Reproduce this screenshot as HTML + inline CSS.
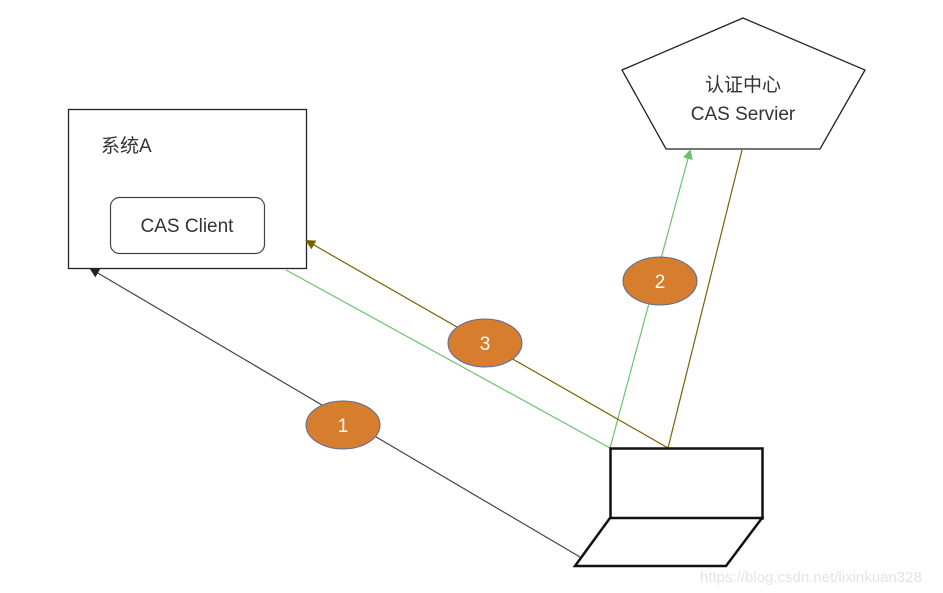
<!DOCTYPE html>
<html><head><meta charset="utf-8"><style>body{margin:0;background:#fff}svg{display:block}</style></head><body>
<svg width="943" height="593" xmlns="http://www.w3.org/2000/svg" font-family="Liberation Sans, Noto Sans CJK SC, sans-serif">
<defs>
<marker id="mk" markerWidth="10" markerHeight="10" refX="8" refY="5" orient="auto" markerUnits="userSpaceOnUse"><path d="M0,0 L10,5 L0,10 z" fill="#222"/></marker>
<marker id="mo" markerWidth="10" markerHeight="10" refX="8" refY="5" orient="auto" markerUnits="userSpaceOnUse"><path d="M0,0 L10,5 L0,10 z" fill="#7a6200"/></marker>
<marker id="mg" markerWidth="10" markerHeight="10" refX="8" refY="5" orient="auto" markerUnits="userSpaceOnUse"><path d="M0,0 L10,5 L0,10 z" fill="#6cc26c"/></marker>
</defs>
<rect x="68.5" y="109.5" width="238" height="159" fill="#fff" stroke="#222" stroke-width="1.3"/>
<text x="101" y="152" font-size="19" fill="#333">系统A</text>
<rect x="110.5" y="197.5" width="154" height="56" rx="9" fill="#fff" stroke="#444" stroke-width="1.2"/>
<text x="187" y="232" font-size="19" fill="#333" text-anchor="middle">CAS Client</text>
<polygon points="743,18 865,70 820,149 666,149 622,70" fill="#fff" stroke="#222" stroke-width="1.3"/>
<text x="743" y="91" font-size="19" fill="#333" text-anchor="middle">认证中心</text>
<text x="743" y="120" font-size="19" fill="#333" text-anchor="middle">CAS Servier</text>
<line x1="580" y1="557" x2="91" y2="269" stroke="#444" stroke-width="1.2" marker-end="url(#mk)"/>
<line x1="610" y1="448" x2="286" y2="270" stroke="#6cc26c" stroke-width="1.2"/>
<line x1="610" y1="448" x2="690" y2="151" stroke="#6cc26c" stroke-width="1.2" marker-end="url(#mg)"/>
<line x1="668" y1="448" x2="307" y2="241" stroke="#7a6200" stroke-width="1.2" marker-end="url(#mo)"/>
<line x1="668" y1="448" x2="742" y2="150" stroke="#7a6200" stroke-width="1.2"/>
<rect x="610.5" y="448.5" width="152" height="70" fill="#fff" stroke="#111" stroke-width="2.5"/>
<polygon points="610,518 762,518 726,566 575,566" fill="#fff" stroke="#111" stroke-width="2.5"/>
<ellipse cx="343" cy="425" rx="37" ry="24" fill="#d67d2e" stroke="#5a6aa0" stroke-width="1"/>
<text x="343" y="432" font-size="19" fill="#fff" text-anchor="middle">1</text>
<ellipse cx="485" cy="343" rx="37" ry="24" fill="#d67d2e" stroke="#5a6aa0" stroke-width="1"/>
<text x="485" y="350" font-size="19" fill="#fff" text-anchor="middle">3</text>
<ellipse cx="660" cy="281" rx="37" ry="24" fill="#d67d2e" stroke="#5a6aa0" stroke-width="1"/>
<text x="660" y="288" font-size="19" fill="#fff" text-anchor="middle">2</text>
<text x="700" y="582" font-size="15" fill="#e4e4e4">https://blog.csdn.net/lixinkuan328</text>
</svg>
</body></html>
